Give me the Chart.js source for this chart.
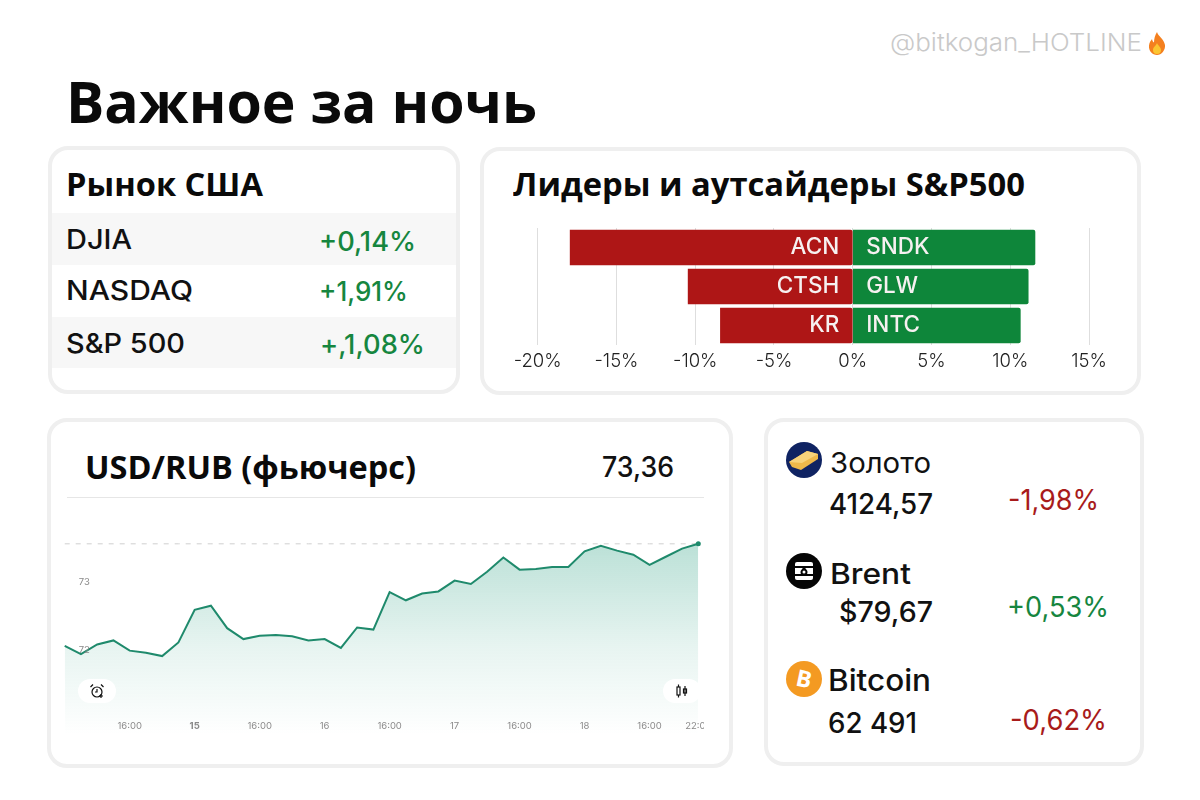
<!DOCTYPE html>
<html lang="ru"><head><meta charset="utf-8">
<script src="https://cdn.jsdelivr.net/npm/chart.js@4"></script>
<style>
html,body{margin:0;padding:0;background:#fff;width:1200px;height:800px;overflow:hidden}
#page{position:relative;width:1200px;height:800px;font-family:Inter,sans-serif;color:#111}
.t{position:absolute;white-space:nowrap;line-height:1;transform-origin:0 50%}
.h{font-family:"Open Sans",sans-serif;font-weight:700;color:#0a0a0a}
.card{position:absolute;box-sizing:border-box;border:4px solid #efefef;border-radius:20px;background:#fff}
.stripe{position:absolute;background:#f7f7f7}
canvas{position:absolute;display:block}
.pill{position:absolute;background:#fff;border-radius:12px;width:38px;height:24px;display:flex;align-items:center;justify-content:center}
svg{position:absolute}
.pill svg{position:static}
</style></head><body>
<div id="page"></div>
<script>
// ---- data ----
const hotTickers = ['SNDK','GLW','INTC'];
const hotValues = [11.57,11.14,10.64];
const coldTickers = ['ACN','CTSH','KR'];
const coldValues = [-17.94,-10.45,-8.4];
const barTickValues = [-20,-15,-10,-5,0,5,10,15];

const rubLabels = ['','','','','16:00','','','','15','','','','16:00','','','','16','','','','16:00','','','','17','','','','16:00','','','','18','','','','16:00','','','22:00'];
const rubValues = [72.06,71.94,72.08,72.14,71.99,71.96,71.91,72.11,72.59,72.65,72.32,72.16,72.21,72.22,72.2,72.14,72.16,72.03,72.33,72.3,72.85,72.73,72.83,72.86,73.02,72.97,73.15,73.36,73.18,73.19,73.22,73.22,73.45,73.53,73.46,73.4,73.25,73.37,73.49,73.56];
const rubYTicks = [72,73];
const rubLast = 73.56;

const GREEN='#16863f', RED='#a81b1b';
const page=document.getElementById('page');
function el(html){const d=document.createElement('div');d.innerHTML=html.trim();const n=d.firstChild;page.appendChild(n);return n;}
function text(s,x,cy,size,opts={}){
  const n=document.createElement('div');n.className='t'+(opts.h?' h':'');n.textContent=s;
  n.style.left=x+'px';n.style.fontSize=size+'px';n.style.top=(cy-size/2)+'px';
  n.style.fontWeight=opts.weight||(opts.h?700:400);n.style.color=opts.color||(opts.h?'#0a0a0a':'#111');
  page.appendChild(n);
  if(opts.w){const real=n.getBoundingClientRect().width;n.style.transform='scaleX('+(opts.w/real)+')';}
  return n;
}
function card(x,y,w,h){const c=document.createElement('div');c.className='card';c.style.cssText=`left:${x}px;top:${y}px;width:${w}px;height:${h}px`;page.appendChild(c);}

card(48,146,412,248);card(480,147,661,248);card(47,418,686,350);card(764,418,380,348);
for(const [y,h] of [[213,52],[317,51]]){const s=document.createElement('div');s.className='stripe';s.style.cssText=`left:52px;top:${y}px;width:404px;height:${h}px`;page.appendChild(s);}

text('@bitkogan_HOTLINE',890,43,24,{color:'#c9c9c9',weight:300,w:252});
el(`<svg style="left:1145px;top:31px" width="24" height="25" viewBox="0 0 24 25"><path d="M12 1c1 4 7 7 8 13 .6 5-3.500 10-8 10S3.400 20 4 14.500C4.400 11 6 9.500 7 8c.3 2 1 3 2 3.500C9 8 10 4 12 1z" fill="#f4801f"/><path d="M12 12c.5 2 4 4 4 7a4 4 0 0 1-8 0c0-3 3-4 4-7z" fill="#fbc531"/></svg>`);
text('Важное за ночь',66,101,58,{h:true,w:471});
text('Рынок США',66,183,33,{h:true,w:197});
text('Лидеры и аутсайдеры S&P500',513,183,33,{h:true,w:512});
text('USD/RUB (фьючерс)',85,467,32,{h:true,w:331});
text('73,36',602,467,28,{weight:500,w:72});

text('DJIA',66,239,27,{weight:500,w:66});
text('+0,14%',319,241,27,{weight:500,color:GREEN,w:97});
text('NASDAQ',66,290,27,{weight:500,w:127});
text('+1,91%',319,291,27,{weight:500,color:GREEN,w:89});
text('S&P 500',66,343,27,{weight:500,w:119});
text('+,1,08%',320,344,27,{weight:500,color:GREEN,w:105});

text('Золото',830,462,29,{weight:400,w:101});
text('4124,57',829,504,28,{weight:500,w:104});
text('-1,98%',1008,500,28,{weight:400,color:RED,w:91});
text('Brent',830,573,29,{weight:500,w:81});
text('$79,67',839,612,28,{weight:500,w:94});
text('+0,53%',1007,607,28,{weight:400,color:GREEN,w:102});
text('Bitcoin',828,680,30,{weight:500,w:103});
text('62 491',828,723,28,{weight:500,w:89});
text('-0,62%',1010,720,28,{weight:400,color:RED,w:97});

// rule under the futures title
const rule=document.createElement('div');rule.style.cssText='position:absolute;left:67px;top:497px;width:637px;height:1px;background:#e6e6e6';page.appendChild(rule);

// icons
el(`<svg style="left:786px;top:442px" width="36" height="36" viewBox="0 0 36 36"><circle cx="18" cy="18" r="18" fill="#0f2362"/><path d="M3 20 21 9l11 3v5L15 28l-9-3z" fill="#eeb84a"/><path d="M3 20 21 9l11 3-16 9z" fill="#f7d27a"/></svg>`);
el(`<svg style="left:786px;top:553px" width="36" height="36" viewBox="0 0 36 36"><circle cx="18" cy="18" r="18" fill="#050505"/><rect x="9" y="9" width="18" height="18" rx="2" fill="#fff"/><rect x="7.500" y="13" width="21" height="2" fill="#050505"/><rect x="7.500" y="21" width="21" height="2" fill="#050505"/><path d="M18 13.500c2 2.500 3.500 4 3.500 5.500a3.500 3.500 0 0 1-7 0c0-1.500 1.500-3 3.500-5.500z" fill="#050505"/><circle cx="18" cy="19" r="1.500" fill="#fff"/></svg>`);
el(`<svg style="left:786px;top:661px" width="36" height="36" viewBox="0 0 36 36"><circle cx="18" cy="18" r="18" fill="#f49a22"/><text x="18" y="26" text-anchor="middle" font-family="Open Sans" font-weight="700" font-size="23" fill="#fff" transform="rotate(12 18 18)">B</text></svg>`);

// bar chart
const cb=document.createElement('canvas');cb.width=640;cb.height=160;cb.style.cssText='left:500px;top:220px;width:640px;height:160px';page.appendChild(cb);
const tickerPlugin={id:'tickers',afterDatasetsDraw(chart){
  const c=chart.ctx;c.save();c.font='500 22.5px Inter';c.fillStyle='#f6f1f1';c.textBaseline='middle';
  chart.getDatasetMeta(0).data.forEach((b,i)=>{c.textAlign='right';c.fillText(coldTickers[i],b.base-13,b.y);});
  chart.getDatasetMeta(1).data.forEach((b,i)=>{c.textAlign='left';c.fillText(hotTickers[i],b.base+13,b.y);});
  c.restore();
}};
new Chart(cb,{type:'bar',plugins:[tickerPlugin],data:{labels:coldTickers.map((t,i)=>t+'/'+hotTickers[i]),datasets:[
  {data:coldValues,backgroundColor:'#ae1616',barThickness:35,borderRadius:2,borderSkipped:'end'},
  {data:hotValues,backgroundColor:'#0e863a',barThickness:35,borderRadius:2,borderSkipped:'start'}]},
 options:{indexAxis:'y',responsive:false,animation:false,
  layout:{padding:{left:37.7,right:51,top:8,bottom:0}},
  plugins:{legend:{display:false},tooltip:{enabled:false}},
  scales:{
   y:{display:false,stacked:true},
   x:{stacked:true,min:-20,max:15,border:{display:false},
      afterBuildTicks(s){s.ticks=barTickValues.map(v=>({value:v}));},
      afterFit(s){s.paddingLeft=0;s.paddingRight=0;s.height=35;},
      grid:{color:'#dedede',drawTicks:false},
      ticks:{padding:5,maxRotation:0,autoSkip:false,color:'#222',font:{family:'Inter',size:18.5,weight:'300'},callback:v=>v+'%'}}
  }}});

// futures line chart
const cl=document.createElement('canvas');cl.width=654;cl.height=230;cl.style.cssText='left:50px;top:510px;width:654px;height:230px';page.appendChild(cl);
const lineChart=new Chart(cl,{type:'line',data:{labels:rubLabels,datasets:[
  {data:rubValues,borderColor:'#1f8a6c',borderWidth:2,tension:0,clip:false,fill:'start',
   backgroundColor(ctx){const a=ctx.chart.chartArea;if(!a)return 'transparent';
     const g=ctx.chart.ctx.createLinearGradient(0,ctx.chart.scales.y.getPixelForValue(rubLast),0,a.bottom);
     g.addColorStop(0,'rgba(44,160,130,0.32)');g.addColorStop(0.55,'rgba(44,160,130,0.11)');g.addColorStop(1,'rgba(44,160,130,0)');return g;},
   pointRadius:c=>c.dataIndex===rubValues.length-1?2.5:0,pointBackgroundColor:'#1f8a6c',pointBorderWidth:0},
  {data:rubValues.map(()=>rubLast),borderColor:'#cfcfcf',borderWidth:1,borderDash:[5,6],pointRadius:0,fill:false}]},
 options:{responsive:false,animation:false,
  layout:{padding:{left:0,right:5.7,top:10,bottom:0}},
  plugins:{legend:{display:false},tooltip:{enabled:false}},
  scales:{
   y:{min:70.75,max:73.91,border:{display:false},grid:{display:false},
      afterBuildTicks(s){s.ticks=rubYTicks.map(v=>({value:v}));},
      afterFit(s){s.width=14.7;s.paddingTop=0;s.paddingBottom=0;},
      ticks:{mirror:true,padding:14,z:1,color:'#8a8a8a',font:{family:'Inter',size:9.5},callback:v=>String(v)}},
   x:{border:{display:false},grid:{display:false},
      afterFit(s){s.paddingLeft=0;s.paddingRight=0;s.height=5;},
      ticks:{autoSkip:false,maxRotation:0,mirror:true,padding:3,z:1,color:'#8a8a8a',
        font:c=>({family:'Inter',size:9.5,weight:rubLabels[c.index]==='15'?'700':'400'})}}
  }}});

// pills over the line chart
el(`<div class="pill" style="left:78px;top:679px"><svg width="16" height="16" viewBox="0 0 16 16" fill="none" stroke="#111" stroke-width="1.200"><circle cx="8" cy="9" r="5"/><path d="M8 6v3H6M1.500 4 4 1.500M14.500 4 12 1.500M12 11v4M10 13h4"/></svg></div>`);
el(`<div class="pill" style="left:663px;top:679px"><svg width="14" height="14" viewBox="0 0 14 14" fill="none" stroke="#111" stroke-width="1.200"><rect x="2" y="3" width="3" height="8"/><path d="M3.500 0.500V3M3.500 11v2.500M10 2v10"/><rect x="8.500" y="5" width="3" height="4"/></svg></div>`);
</script>
</body></html>
